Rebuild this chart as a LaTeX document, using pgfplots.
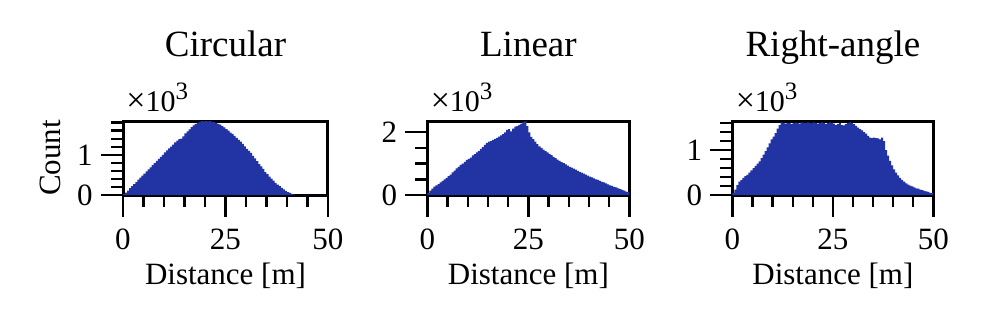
\documentclass[border=0pt]{standalone}
\usepackage{fontspec}
\setmainfont{Liberation Serif}
\usepackage{pgfplots}
\usepackage{pgfplotstable}
\pgfplotsset{compat=1.18}
\definecolor{histblue}{HTML}{2233A3}

% counts per 0.5 m bin, in thousands (left bin edge in x)
\pgfplotstableread{
x circ lin right
0 0.02 0.06 0.05
0.5 0.06 0.14 0.12
1 0.11 0.20 0.22
1.5 0.17 0.27 0.30
2 0.22 0.31 0.33
2.5 0.27 0.35 0.38
3 0.32 0.40 0.42
3.5 0.38 0.45 0.45
4 0.43 0.50 0.50
4.5 0.48 0.55 0.55
5 0.53 0.60 0.60
5.5 0.59 0.65 0.65
6 0.64 0.72 0.70
6.5 0.69 0.78 0.75
7 0.74 0.85 0.82
7.5 0.79 0.90 0.90
8 0.85 0.96 0.98
8.5 0.90 1.00 1.06
9 0.95 1.06 1.15
9.5 1.00 1.12 1.24
10 1.06 1.15 1.30
10.5 1.11 1.19 1.38
11 1.16 1.26 1.48
11.5 1.20 1.30 1.56
12 1.25 1.36 1.62
12.5 1.31 1.40 1.60
13 1.35 1.47 1.59
13.5 1.39 1.53 1.61
14 1.40 1.60 1.60
14.5 1.46 1.66 1.58
15 1.53 1.70 1.60
15.5 1.58 1.72 1.62
16 1.63 1.76 1.60
16.5 1.69 1.79 1.59
17 1.73 1.82 1.62
17.5 1.77 1.86 1.61
18 1.80 1.90 1.60
18.5 1.82 1.94 1.62
19 1.84 2.00 1.61
19.5 1.83 2.08 1.60
20 1.84 2.10 1.62
20.5 1.83 2.03 1.60
21 1.84 2.12 1.59
21.5 1.82 2.18 1.61
22 1.81 2.20 1.62
22.5 1.79 2.24 1.60
23 1.77 2.28 1.58
23.5 1.75 2.33 1.60
24 1.71 2.35 1.62
24.5 1.68 2.20 1.61
25 1.64 2.00 1.59
25.5 1.60 1.85 1.56
26 1.55 1.78 1.58
26.5 1.52 1.70 1.60
27 1.47 1.62 1.56
27.5 1.42 1.55 1.55
28 1.37 1.50 1.58
28.5 1.33 1.45 1.60
29 1.27 1.40 1.62
29.5 1.21 1.36 1.61
30 1.15 1.31 1.58
30.5 1.10 1.27 1.54
31 1.05 1.22 1.50
31.5 0.97 1.18 1.47
32 0.91 1.13 1.44
32.5 0.84 1.09 1.40
33 0.77 1.05 1.37
33.5 0.71 1.02 1.32
34 0.65 0.98 1.28
34.5 0.57 0.94 1.27
35 0.52 0.90 1.28
35.5 0.46 0.87 1.27
36 0.41 0.84 1.26
36.5 0.36 0.81 1.24
37 0.30 0.77 1.28
37.5 0.26 0.74 1.20
38 0.22 0.71 1.00
38.5 0.18 0.68 0.88
39 0.14 0.65 0.76
39.5 0.10 0.62 0.66
40 0.07 0.59 0.57
40.5 0.05 0.56 0.50
41 0.03 0.53 0.44
41.5 0.01 0.50 0.38
42 0 0.48 0.34
42.5 0 0.45 0.30
43 0 0.42 0.26
43.5 0 0.40 0.23
44 0 0.37 0.21
44.5 0 0.34 0.19
45 0 0.31 0.17
45.5 0 0.29 0.15
46 0 0.26 0.14
46.5 0 0.24 0.12
47 0 0.21 0.11
47.5 0 0.19 0.09
48 0 0.16 0.08
48.5 0 0.14 0.07
49 0 0.11 0.05
49.5 0 0.09 0.04
50 0 0 0
}\histdata

\pgfplotsset{
  histax/.style={
    scale only axis, height=37pt,
    xmin=0, xmax=50, ymin=0, clip=false,
    axis line style={line width=1.5pt},
    every tick/.style={line width=1.2pt, black},
    tick align=outside, tick pos=left,
    major tick length=11pt, minor tick length=6pt,
    xtick={0,25,50}, minor xtick={5,10,15,20,30,35,40,45},
    scaled y ticks=false,
    /pgf/number format/assume math mode=true,
    tick label style={font=\fontsize{15.5}{15.5}\selectfont},
    xticklabel style={anchor=base, yshift=-16pt},
    yticklabel style={anchor=east, inner sep=0pt, xshift=-4pt},
    title style={font=\fontsize{18.5}{18.5}\selectfont, at={(0.5,1)}, anchor=base, yshift=26.5pt},
    xlabel={Distance [m]},
    xlabel style={font=\fontsize{15.5}{15.5}\selectfont, at={(0.5,0)}, anchor=base, yshift=-44.5pt},
  },
  histbar/.style={ybar interval, fill=histblue, draw=none},
}

\newcommand{\timesten}{\node[anchor=base west, inner sep=0pt, font=\fontsize{15}{15}\selectfont]
  at (rel axis cs:0,1) [xshift=1.5pt, yshift=4.7pt] {{\fontsize{17}{17}\selectfont ×}10\raisebox{6pt}{\fontsize{12.5}{12.5}\selectfont 3}};}

\begin{document}
\begin{tikzpicture}
\path[use as bounding box] (0,0) rectangle (493.5pt,164.5pt);

\begin{axis}[histax, at={(61.5pt,67pt)}, anchor=south west, width=102.5pt,
    ymax=1.84, ytick={0,1}, minor ytick={0.2,0.4,0.6,0.8,1.2,1.4,1.6,1.8},
    title={Circular}, ylabel={Count},
    ylabel style={font=\fontsize{15.5}{15.5}\selectfont, at={(axis description cs:-0.356,0.5)}, anchor=center}]
\addplot[histbar] table[x=x, y=circ] {\histdata};
\timesten
\end{axis}

\begin{axis}[histax, at={(213.7pt,67pt)}, anchor=south west, width=101pt,
    ymax=2.36, ytick={0,2}, minor ytick={0.5,1,1.5},
    title={Linear}]
\addplot[histbar] table[x=x, y=lin] {\histdata};
\timesten
\end{axis}

\begin{axis}[histax, at={(366.2pt,67pt)}, anchor=south west, width=100.5pt,
    ymax=1.65, ytick={0,1}, minor ytick={0.2,0.4,0.6,0.8,1.2,1.4,1.6},
    title={Right-angle}]
\addplot[histbar] table[x=x, y=right] {\histdata};
\timesten
\end{axis}
\end{tikzpicture}
\end{document}
